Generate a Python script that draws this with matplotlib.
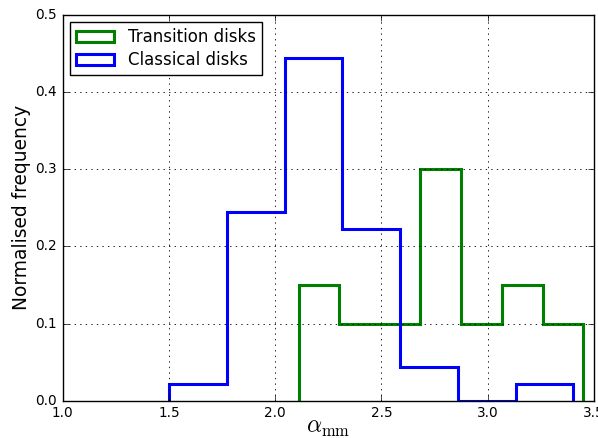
import matplotlib
matplotlib.use("Agg")
import matplotlib.pyplot as plt
from matplotlib.patches import Patch

# histogram data (normalised frequencies)
transition_edges = [2.110, 2.301, 2.493, 2.684, 2.876, 3.067, 3.259, 3.450]
transition_freq = [0.15, 0.10, 0.10, 0.30, 0.10, 0.15, 0.10]

classical_edges = [1.500, 1.772, 2.044, 2.316, 2.588, 2.860, 3.132, 3.404]
classical_freq = [0.0222, 0.2444, 0.4444, 0.2222, 0.0444, 0.0, 0.0222]

xticks = [1.0, 1.5, 2.0, 2.5, 3.0, 3.5]
yticks = [0.0, 0.1, 0.2, 0.3, 0.4, 0.5]

plt.style.use("classic")
plt.rcParams["mathtext.fontset"] = "cm"

fig = plt.figure(figsize=(5.98, 4.38), dpi=100, facecolor="white")
ax = fig.add_axes([0.105, 0.085, 0.888, 0.881])

ax.stairs(transition_freq, transition_edges, color="green", lw=2.2, fill=False)
ax.stairs(classical_freq, classical_edges, color="blue", lw=2.2, fill=False)

ax.set_xlim(1.0, 3.5)
ax.set_ylim(0.0, 0.5)
ax.set_xticks(xticks)
ax.set_yticks(yticks)
ax.set_xticklabels(["%.1f" % t for t in xticks])
ax.set_yticklabels(["%.1f" % t for t in yticks])
ax.tick_params(labelsize=9.8, direction="in", length=4)
ax.grid(True, linestyle=":", color="black", lw=0.6)

ax.set_xlabel(r"$\alpha_{\rm mm}$", fontsize=17, labelpad=-4)
ax.set_ylabel("Normalised frequency", fontsize=13.4, labelpad=3)

handles = [Patch(facecolor="none", edgecolor="green", lw=2.2),
           Patch(facecolor="none", edgecolor="blue", lw=2.2)]
ax.legend(handles, ["Transition disks", "Classical disks"], loc="upper left",
          fontsize=12, handlelength=2.3, handletextpad=0.8, labelspacing=0.3,
          borderpad=0.35, borderaxespad=0.45, fancybox=False)

fig.savefig("out.png", dpi=100, facecolor="white")
